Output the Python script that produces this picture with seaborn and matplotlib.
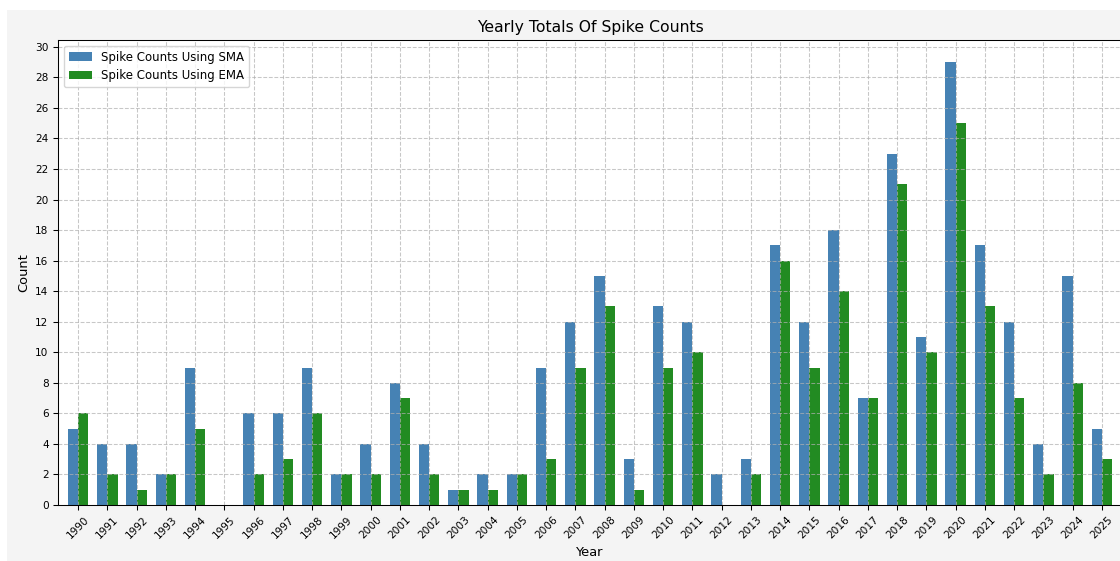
import numpy as np
import pandas as pd
import matplotlib
matplotlib.use("Agg")
import matplotlib.pyplot as plt
from matplotlib.patches import Rectangle
from matplotlib.ticker import MultipleLocator
import seaborn as sns

years = list(range(1990, 2026))
sma_counts = [5, 4, 4, 2, 9, 0, 6, 6, 9, 2, 4, 8, 4, 1, 2, 2, 9, 12, 15, 3,
              13, 12, 2, 3, 17, 12, 18, 7, 23, 11, 29, 17, 12, 4, 15, 5]
ema_counts = [6, 2, 1, 2, 5, 0, 2, 3, 6, 2, 2, 7, 2, 1, 1, 2, 3, 9, 13, 1,
              9, 10, 0, 2, 16, 9, 14, 7, 21, 10, 25, 13, 7, 2, 8, 3]
series_labels = ["Spike Counts Using SMA", "Spike Counts Using EMA"]
series_colors = ["#4682B4", "#228B22"]

df = pd.DataFrame({
    "Year": [str(y) for y in years] * 2,
    "Count": sma_counts + ema_counts,
    "Series": [series_labels[0]] * len(years) + [series_labels[1]] * len(years),
})

s = 0.94  # overall scale of the reference rendering
plt.rcParams.update({
    "xtick.major.size": 3.5 * s, "ytick.major.size": 3.5 * s,
    "xtick.major.width": 0.8 * s, "ytick.major.width": 0.8 * s,
    "axes.linewidth": 0.8 * s, "grid.linewidth": 0.8 * s,
    "legend.fontsize": 10 * s * 0.9,
})

W, H = 1120, 561
fig = plt.figure(figsize=(W / 100, H / 100), dpi=100, facecolor="white")
fig.patches.append(Rectangle((7 / W, 0), 1, 1 - 10 / H, transform=fig.transFigure,
                             facecolor="#f4f4f4", edgecolor="none", zorder=-10))

left, right, top, bottom = 58, 1122, 40, 505
ax = fig.add_axes([left / W, 1 - bottom / H, (right - left) / W, (bottom - top) / H])
ax.set_facecolor("white")

sns.barplot(data=df, x="Year", y="Count", hue="Series", hue_order=series_labels,
            palette=series_colors, width=0.7, saturation=1, ax=ax, errorbar=None,
            edgecolor="none", linewidth=0)

ax.set_xlim(-0.69, len(years) - 1 + 0.69)
ax.set_ylim(0, 30.45)
ax.yaxis.set_major_locator(MultipleLocator(2))
ax.set_axisbelow("line")
ax.grid(True, linestyle="--", alpha=0.7)
ax.tick_params(axis="x", labelrotation=45, labelsize=8 * s)
ax.tick_params(axis="y", labelsize=8 * s)
ax.set_title("Yearly Totals Of Spike Counts", fontsize=12 * s, pad=6 * s)
ax.set_xlabel("Year", fontsize=10 * s, labelpad=4 * s)
ax.set_ylabel("Count", fontsize=10 * s, labelpad=4 * s)
ax.legend(loc="upper left", fontsize=9 * s, title=None,
          borderaxespad=0.5, handlelength=2.0)

fig.savefig("out.png", dpi=100, facecolor=fig.get_facecolor())
